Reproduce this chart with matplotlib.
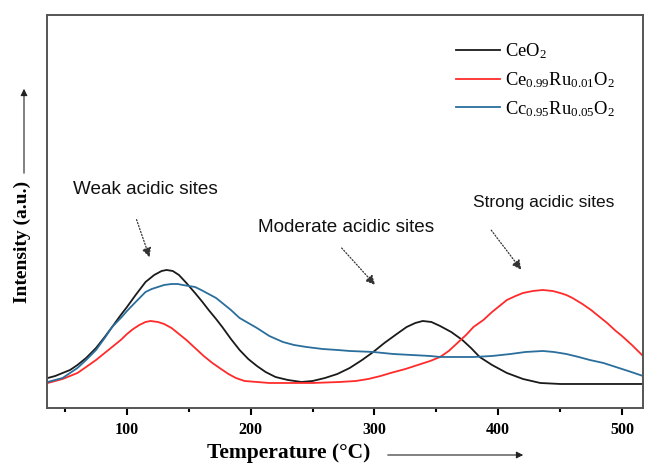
import numpy as np
import matplotlib
matplotlib.use('Agg')
import matplotlib.pyplot as plt
from matplotlib.ticker import MultipleLocator

plt.rcParams['mathtext.fontset'] = 'custom'
plt.rcParams['mathtext.rm'] = 'Liberation Serif'
plt.rcParams['mathtext.it'] = 'Liberation Serif:italic'

# TPD profiles (temperature in °C, intensity in a.u.)
t_ceo2 = [36, 42, 48, 54, 60, 67, 75, 82, 88, 95, 100, 107, 115, 122, 128, 132,
          137, 142, 148, 155, 161, 166, 172, 177, 184, 191, 198, 205, 212, 220,
          230, 241, 250, 260, 270, 280, 290, 299, 308, 318, 326, 333, 339, 346,
          353, 362, 371, 378, 385, 395, 407, 420, 434, 450, 470, 495, 517]
i_ceo2 = [30, 32, 35, 38, 43, 50, 60, 71, 81, 93, 101, 113, 126, 133, 137, 138,
          137, 133, 125, 115, 106, 98, 89, 81, 69, 58, 49, 42, 36, 31,
          28, 26, 27, 30, 34, 40, 48, 56, 65, 74, 81, 85, 87, 86,
          82, 76, 68, 60, 51, 43, 35, 29, 25, 24, 24, 24, 24]

t_ru01 = [36, 42, 48, 54, 60, 67, 75, 82, 88, 95, 100, 105, 110, 115, 119, 125,
          130, 136, 141, 148, 155, 162, 169, 176, 182, 188, 195, 205, 215, 232,
          250, 272, 285, 295, 305, 313, 325, 335, 345, 353, 360, 367, 374, 380,
          388, 395, 401, 407, 414, 420, 428, 436, 444, 450, 455, 460, 468, 475,
          482, 488, 495, 500, 508, 517]
i_ru01 = [25, 27, 29, 32, 35, 41, 48, 55, 61, 68, 74, 79, 83, 86, 87, 86,
          84, 80, 75, 68, 60, 52, 45, 39, 34, 30, 27, 26, 25, 25,
          25, 26, 27, 29, 32, 35, 39, 43, 47, 51, 57, 65, 73, 81,
          88, 96, 102, 108, 112, 115, 117, 118, 117, 115, 113, 110, 104, 98,
          91, 85, 77, 72, 63, 52]

t_ru05 = [36, 42, 48, 54, 60, 67, 75, 82, 88, 95, 100, 107, 115, 120, 125, 130,
          136, 141, 145, 150, 155, 160, 166, 172, 177, 184, 191, 198, 205, 215,
          226, 235, 245, 258, 270, 280, 299, 315, 330, 345, 353, 365, 380, 395,
          410, 422, 436, 445, 455, 465, 474, 485, 495, 505, 517]
i_ru05 = [26, 28, 30, 35, 40, 48, 58, 70, 81, 90, 97, 106, 116, 119, 121, 123,
          124, 124, 123, 122, 121, 118, 114, 110, 105, 98, 90, 85, 80, 72,
          66, 63, 61, 59, 58, 57, 56, 54, 53, 52, 51, 51, 51, 52,
          54, 56, 57, 56, 54, 51, 48, 45, 41, 37, 32]

labels = [r'CeO$_2$', r'Ce$_{0.99}$Ru$_{0.01}$O$_2$', r'Cc$_{0.95}$Ru$_{0.05}$O$_2$']
colors = ['#1a1a1a', '#ff2a2a', '#2a6e9c']

fig = plt.figure(figsize=(6.46, 4.66), dpi=100)
ax = fig.add_axes([0.0728, 0.1245, 0.9226, 0.8433])

for t, i, lab, c in zip([t_ceo2, t_ru01, t_ru05], [i_ceo2, i_ru01, i_ru05], labels, colors):
    ax.plot(t, i, color=c, lw=1.3, label=lab)

ax.set_xlim(35.4, 517)
ax.set_ylim(0, 393)
ax.set_yticks([])
ax.xaxis.set_major_locator(MultipleLocator(100))
ax.xaxis.set_minor_locator(MultipleLocator(50))
ax.tick_params(axis='x', which='major', direction='out', length=5, width=1.5, pad=5)
ax.tick_params(axis='x', which='minor', direction='out', length=3, width=1.5)
for lbl in ax.get_xticklabels():
    lbl.set_fontfamily('Liberation Serif')
    lbl.set_fontweight('bold')
    lbl.set_fontsize(11.5)
for sp in ax.spines.values():
    sp.set_color('#555555')
    sp.set_linewidth(1.4)

leg = ax.legend(loc='upper right', bbox_to_anchor=(0.98, 0.976), frameon=False,
                prop={'family': 'Liberation Serif', 'size': 13.3},
                handlelength=2.4, handletextpad=0.25, labelspacing=0.5)

# peak annotations
afont = dict(family='Liberation Sans', color='#111111', va='center')
arrow = dict(arrowstyle='-|>', linestyle=(0, (1, 1.5)), color='#333333', lw=0.9,
             mutation_scale=14)
ax.text(56, 218, 'Weak acidic sites', fontsize=13.6, **afont)
ax.annotate('', xy=(119, 148), xytext=(107, 191), arrowprops=arrow)
ax.text(206, 180, 'Moderate acidic sites', fontsize=13.6, **afont)
ax.annotate('', xy=(302, 121), xytext=(272, 162), arrowprops=arrow)
ax.text(380, 205, 'Strong acidic sites', fontsize=12.5, **afont)
ax.annotate('', xy=(420, 136), xytext=(393, 180), arrowprops=arrow)

# axis titles with direction arrows
fig.text(289, 13, 'Temperature (°C)', transform=None, ha='center', va='center',
         family='Liberation Serif', fontweight='bold', fontsize=15.5)
fig.text(22, 224, 'Intensity (a.u.)', transform=None, ha='center', va='center',
         rotation=90, family='Liberation Serif', fontweight='bold', fontsize=14)
fig.patches.append(matplotlib.patches.FancyArrowPatch(
    (385, 11), (526, 11), transform=None, arrowstyle='-|>', mutation_scale=10,
    color='#222222', lw=0.8))
fig.patches.append(matplotlib.patches.FancyArrowPatch(
    (24, 290), (24, 380), transform=None, arrowstyle='-|>', mutation_scale=10,
    color='#222222', lw=0.8))

fig.savefig('out.png', dpi=100)
